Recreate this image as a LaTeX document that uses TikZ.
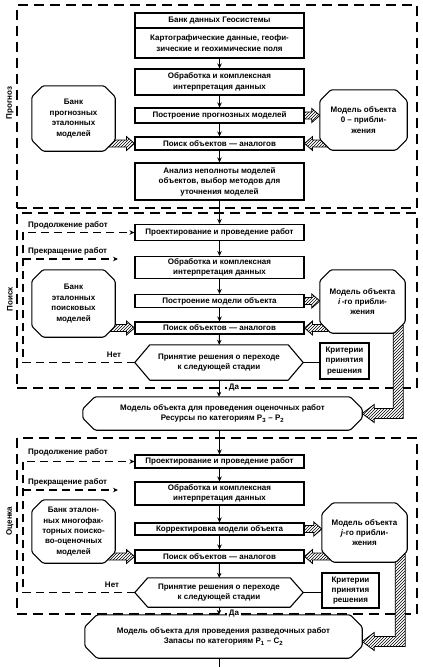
\documentclass[tikz,border=0pt]{standalone}
\usepackage{fontspec}
\setmainfont{Liberation Sans}
\usetikzlibrary{calc,patterns,arrows.meta}
\pgfdeclarelayer{back}
\pgfdeclarelayer{mid}
\pgfsetlayers{back,mid,main}
\tikzset{
 txt/.style={font=\bfseries\fontsize{8}{10.4}\selectfont, inner sep=0pt, align=center},
 blk/.style={txt, draw, line width=1.1pt, fill=white, minimum width=169pt},
 secbox/.style={draw, line width=1.2pt, dash pattern=on 10pt off 6pt, inner sep=0pt},
 fb/.style={line width=1.2pt, dash pattern=on 8pt off 5pt},
 arr/.style={-{Stealth[length=5pt,width=4.5pt]}, line width=1pt},
 fbarr/.style={fb, -{Stealth[length=5pt,width=4.5pt]}},
 oline/.style={line width=1.1pt, fill=white, line join=round, rounded corners=1.5pt},
 hatch/.style={line width=0.8pt, preaction={fill=white}, pattern=north east lines, line join=miter},
 sidelbl/.style={txt, rotate=90},
}
\newcommand\octo[2]{\begin{pgfonlayer}{mid}\draw[oline] ($(#1.north west)+(#2,0)$) -- ($(#1.north east)+(-#2,0)$) -- ($(#1.north east)+(0,#2)$) -- ($(#1.south east)+(0,-#2)$) -- ($(#1.south east)+(-#2,0)$) -- ($(#1.south west)+(#2,0)$) -- ($(#1.south west)+(0,-#2)$) -- ($(#1.north west)+(0,#2)$) -- cycle;\end{pgfonlayer}}
\newcommand\hexa[2]{\begin{pgfonlayer}{mid}\draw[oline,rounded corners=0pt] (#1.west) -- ($(#1.north west)+(#2,0)$) -- ($(#1.north east)+(-#2,0)$) -- (#1.east) -- ($(#1.south east)+(-#2,0)$) -- ($(#1.south west)+(#2,0)$) -- cycle;\end{pgfonlayer}}
\newcommand\hatR[2]{\begin{pgfonlayer}{back}\draw[hatch] let \p1=(#1),\p2=(#2) in (\x1,\y2+3.5pt) -- (\x2-8pt,\y2+3.5pt) -- (\x2-8pt,\y2+7pt) -- (\x2,\y2) -- (\x2-8pt,\y2-7pt) -- (\x2-8pt,\y2-3.5pt) -- (\x1,\y2-3.5pt) -- cycle;\end{pgfonlayer}}
\newcommand\hatL[2]{\begin{pgfonlayer}{back}\draw[hatch] let \p1=(#1),\p2=(#2) in (\x1,\y2+3.5pt) -- (\x2+8pt,\y2+3.5pt) -- (\x2+8pt,\y2+7pt) -- (\x2,\y2) -- (\x2+8pt,\y2-7pt) -- (\x2+8pt,\y2-3.5pt) -- (\x1,\y2-3.5pt) -- cycle;\end{pgfonlayer}}
\newcommand\hatLL[2]{\begin{pgfonlayer}{back}\draw[hatch] let \p1=(#1),\p2=(#2) in (\x1,\y1) -- (\x1,\y2-5pt) -- (\x2+12pt,\y2-5pt) -- (\x2+12pt,\y2-9pt) -- (\x2,\y2) -- (\x2+12pt,\y2+9pt) -- (\x2+12pt,\y2+5pt) -- (\x1-10pt,\y2+5pt) -- (\x1-10pt,\y1) -- cycle;\end{pgfonlayer}}
\begin{document}
\begin{tikzpicture}[x=1pt,y=-1pt]
\useasboundingbox (0,0) rectangle (423,667);
% section frames
\begin{pgfonlayer}{back}
\node[secbox, minimum width=400pt, minimum height=203pt] (sec1) at (217,106.5) {};
\node[secbox, minimum width=400pt, minimum height=175pt] (sec2) at (217,300.5) {};
\node[secbox, minimum width=400pt, minimum height=176pt] (sec3) at (217,526) {};
\end{pgfonlayer}
\node[sidelbl] (l1) at (10,103) {Прогноз};
\node[sidelbl] (l2) at (10,299) {Поиск};
\node[sidelbl] (l3) at (10,521) {Оценка};
% ---------- section 1
\node[blk, minimum height=15pt] (b1) at (219.5,20.5) {Банк данных Геосистемы};
\node[blk, minimum height=30pt] (b2) at (219.5,43) {Картографические данные, геофи-\\зические и геохимические поля};
\node[blk, minimum height=26pt] (obr1) at (219.5,82) {Обработка и комплексная\\интерпретация данных};
\node[blk, minimum height=15pt] (post1) at (219.5,115.5) {Построение прогнозных моделей};
\node[blk, minimum height=13pt] (poisk1) at (219.5,143.5) {Поиск объектов — аналогов};
\node[blk, minimum height=37pt] (anal) at (219.5,181.5) {Анализ неполноты моделей\\объектов, выбор методов для\\уточнения моделей};
\node[txt, minimum width=83pt, minimum height=65pt] (bL1) at (73.5,118.5) {Банк\\прогнозных\\эталонных\\моделей};
\octo{bL1}{11}
\node[txt, minimum width=87pt, minimum height=60pt] (m0) at (363.5,120) {Модель объекта\\0 – прибли-\\жения};
\octo{m0}{11}
\draw[arr] (b2) -- (obr1);
\draw[arr] (obr1) -- (post1);
\draw[arr] (post1) -- (poisk1);
\draw[arr] (poisk1) -- (anal);
\hatR{post1.east}{m0.west |- post1.east}
\hatL{$(m0.west |- poisk1.east)+(8,0)$}{poisk1.east}
\hatR{$(bL1.east |- poisk1.west)+(-8,0)$}{poisk1.west}
% ---------- section 2
\node[blk, minimum height=16pt] (proj2) at (219.5,232.5) {Проектирование и проведение работ};
\node[blk, minimum height=22pt] (obr2) at (219.5,267.5) {Обработка и комплексная\\интерпретация данных};
\node[blk, minimum height=13pt] (post2) at (219.5,301) {Построение модели объекта};
\node[blk, minimum height=12pt] (poisk2) at (219.5,328) {Поиск объектов — аналогов};
\node[txt, minimum width=168pt, minimum height=35pt] (hex2) at (219,362.5) {Принятие решения о переходе\\к следующей стадии};
\hexa{hex2}{15}
\node[blk, minimum width=49pt, minimum height=36pt] (krit2) at (344.5,361) {Критерии\\принятия\\решения};
\node[txt, minimum width=85pt, minimum height=63pt] (mI) at (362.5,301.5) {Модель объекта\\\textit{i}\,-го прибли-\\жения};
\octo{mI}{11}
\node[txt, minimum width=83pt, minimum height=67pt] (bL2) at (73.5,303.5) {Банк\\эталонных\\поисковых\\моделей};
\octo{bL2}{11}
\node[txt, minimum width=279pt, minimum height=33pt] (big1) at (222.5,413.5) {Модель объекта для проведения оценочных работ\\Ресурсы по категориям P\textsubscript{3} – P\textsubscript{2}};
\octo{big1}{12}
\node[txt, anchor=west] (cont2) at (28,225) {Продолжение работ};
\node[txt, anchor=west] (stop2) at (28,251.5) {Прекращение работ};
\node[txt] (net2) at (114,355) {Нет};
\node[txt, fill=white, inner sep=1.5pt] (da2) at (234,387.5) {Да};
\coordinate (k2) at (23,300);
\coordinate (s2) at (118,259);
\draw[arr] (anal) -- (proj2);
\draw[arr] (proj2) -- (obr2);
\draw[arr] (obr2) -- (post2);
\draw[arr] (post2) -- (poisk2);
\draw[arr] (poisk2) -- (hex2);
\draw[arr] (hex2.south) -- (hex2.south |- big1.north);
\draw[line width=1.1pt] (hex2.east) -- (krit2.west |- hex2.east);
\draw[fbarr] (hex2.west) -- (hex2.west -| k2) -- (k2 |- proj2.west) -- (proj2.west);
\draw[fbarr] (k2 |- s2) -- (s2);
\hatR{post2.east}{mI.west |- post2.east}
\hatL{$(mI.west |- poisk2.east)+(8,0)$}{poisk2.east}
\hatR{$(bL2.east |- poisk2.west)+(-8,0)$}{poisk2.west}
\hatLL{$(mI.south east)+(-2,-8)$}{big1.east}
% ---------- section 3
\node[blk, minimum height=13pt] (proj3) at (219.5,461.5) {Проектирование и проведение работ};
\node[blk, minimum height=23pt] (obr3) at (219.5,493.5) {Обработка и комплексная\\интерпретация данных};
\node[blk, minimum height=12pt] (korr) at (219.5,529) {Корректировка модели объекта};
\node[blk, minimum height=13pt] (poisk3) at (219.5,556.5) {Поиск объектов — аналогов};
\node[txt, minimum width=168pt, minimum height=29pt] (hex3) at (219,592.5) {Принятие решения о переходе\\к следующей стадии};
\hexa{hex3}{13}
\node[blk, minimum width=57pt, minimum height=35pt] (krit3) at (350.5,590.5) {Критерии\\принятия\\решения};
\node[txt, minimum width=85pt, minimum height=59pt] (mJ) at (364.5,532.5) {Модель объекта\\\textit{j}-го прибли-\\жения};
\octo{mJ}{11}
\node[txt, minimum width=83pt, minimum height=63pt] (bL3) at (73.5,531.5) {Банк эталон-\\ных многофак-\\торных поиско-\\во-оценочных\\моделей};
\octo{bL3}{11}
\node[txt, minimum width=277pt, minimum height=43pt] (big2) at (223.5,636.5) {Модель объекта для проведения разведочных работ\\Запасы по категориям P\textsubscript{1} – C\textsubscript{2}};
\octo{big2}{12}
\node[txt, anchor=west] (cont3) at (28,452) {Продолжение работ};
\node[txt, anchor=west] (stop3) at (28,482) {Прекращение работ};
\node[txt] (net3) at (112,585) {Нет};
\node[txt, fill=white, inner sep=1.5pt] (da3) at (234,613.5) {Да};
\coordinate (k3) at (23,520);
\coordinate (s3) at (118,490);
\coordinate (out) at (219.5,667);
\draw[arr] (proj3.north |- big1.south) -- (proj3.north);
\draw[arr] (proj3) -- (obr3);
\draw[arr] (obr3) -- (korr);
\draw[arr] (korr) -- (poisk3);
\draw[arr] (poisk3) -- (hex3);
\draw[arr] (hex3.south) -- (hex3.south |- big2.north);
\draw[line width=1pt] (out |- big2.south) -- (out);
\draw[line width=1.1pt] (hex3.east) -- (krit3.west |- hex3.east);
\draw[fbarr] (hex3.west) -- (hex3.west -| k3) -- (k3 |- proj3.west) -- (proj3.west);
\draw[fbarr] (k3 |- s3) -- (s3);
\hatR{korr.east}{mJ.west |- korr.east}
\hatL{$(mJ.west |- poisk3.east)+(8,0)$}{poisk3.east}
\hatR{$(bL3.east |- poisk3.west)+(-8,0)$}{poisk3.west}
\hatLL{$(mJ.south east)+(-2,-8)$}{$(big2.east)+(0,5)$}
\end{tikzpicture}
\end{document}
